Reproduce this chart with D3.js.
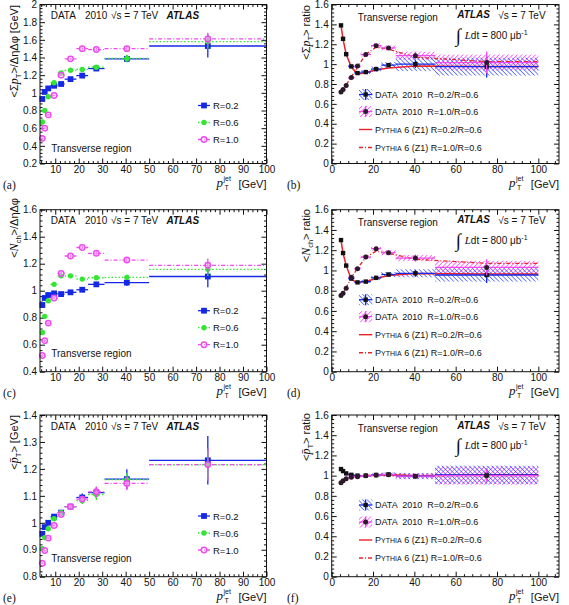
<!DOCTYPE html>
<html><head><meta charset="utf-8">
<script src="https://cdn.jsdelivr.net/npm/d3@7"></script>
<style>body{margin:0;background:#fff}svg{display:block}</style>
</head><body><svg id="c" width="569" height="605"></svg>
<script>
// ---------------- DATA ----------------
const binLo     = [4, 5, 6, 8, 11, 14, 19, 24, 31, 50];
const binHi     = [5, 6, 8, 11, 14, 19, 24, 31, 50, 100];
const binCenter = [4.5, 5.5, 7, 9.5, 12.5, 16.5, 21.5, 27.5, 40.5, 75];
const seriesNames = ["R=0.2", "R=0.6", "R=1.0"];
const ratioNames = ["DATA  2010  R=0.2/R=0.6", "DATA  2010  R=1.0/R=0.6"];
const mcNames = [" 6 (Z1) R=0.2/R=0.6", " 6 (Z1) R=1.0/R=0.6"];

// (a) <sum pT>/deta dphi [GeV]
const sumPtR02 = [0.93, 1.01, 1.05, 1.08, 1.10, 1.155, 1.195, 1.275, 1.385, 1.53];
const sumPtR06 = [0.67, 0.80, 0.955, 1.115, 1.225, 1.255, 1.265, 1.29, 1.39, 1.58];
const sumPtR10 = [0.485, 0.60, 0.75, 0.97, 1.20, 1.385, 1.50, 1.49, 1.50, 1.61];
const sumPtErrR02 = [0.01, 0.01, 0.01, 0.01, 0.01, 0.012, 0.015, 0.02, 0.04, 0.13];
const sumPtErrR06 = [0.01, 0.01, 0.01, 0.01, 0.01, 0.012, 0.015, 0.02, 0.04, 0.08];
const sumPtErrR10 = [0.01, 0.01, 0.01, 0.01, 0.01, 0.012, 0.015, 0.02, 0.03, 0.07];
// (c) <Nch>/deta dphi
const nchR02 = [0.894, 0.946, 0.968, 0.98, 0.975, 0.988, 1.007, 1.047, 1.06, 1.105];
const nchR06 = [0.69, 0.81, 0.926, 1.047, 1.11, 1.11, 1.086, 1.096, 1.099, 1.158];
const nchR10 = [0.52, 0.63, 0.76, 0.946, 1.128, 1.257, 1.32, 1.277, 1.227, 1.188];
const nchErrR02 = [0.01, 0.01, 0.01, 0.01, 0.01, 0.01, 0.012, 0.015, 0.025, 0.08];
const nchErrR06 = [0.01, 0.01, 0.01, 0.01, 0.01, 0.01, 0.012, 0.015, 0.02, 0.05];
const nchErrR10 = [0.01, 0.01, 0.01, 0.01, 0.01, 0.01, 0.012, 0.015, 0.02, 0.05];
// (e) <mean pT> [GeV]
const meanPtR02 = [0.959, 0.984, 1.0, 1.023, 1.038, 1.06, 1.094, 1.112, 1.162, 1.232];
const meanPtR06 = [0.904, 0.945, 0.978, 1.015, 1.038, 1.06, 1.082, 1.105, 1.16, 1.215];
const meanPtR10 = [0.85, 0.897, 0.943, 0.99, 1.031, 1.06, 1.088, 1.115, 1.146, 1.216];
const meanPtErrR02 = [0.005, 0.005, 0.005, 0.006, 0.006, 0.008, 0.015, 0.02, 0.037, 0.09];
const meanPtErrR06 = [0.004, 0.004, 0.005, 0.005, 0.006, 0.008, 0.012, 0.02, 0.025, 0.05];
const meanPtErrR10 = [0.004, 0.004, 0.005, 0.005, 0.006, 0.008, 0.012, 0.02, 0.025, 0.06];

// (b) sum pT ratios
const sumPtRatio02 = [1.39, 1.255, 1.10, 0.977, 0.91, 0.92, 0.95, 0.99, 1.0, 0.975];
const sumPtRatio10 = [0.72, 0.745, 0.785, 0.865, 0.98, 1.097, 1.186, 1.163, 1.085, 1.016];
const sumPtRatioErr = [0.005, 0.005, 0.006, 0.008, 0.01, 0.012, 0.015, 0.02, 0.04, 0.11];
const sumPtSys02 = [0.01, 0.01, 0.01, 0.015, 0.015, 0.02, 0.025, 0.03, 0.07, 0.09];
const sumPtSys10 = [0.01, 0.01, 0.01, 0.015, 0.015, 0.02, 0.025, 0.025, 0.04, 0.08];
// (d) Nch ratios
const nchRatio02 = [1.30, 1.172, 1.048, 0.92, 0.882, 0.89, 0.927, 0.96, 0.972, 0.955];
const nchRatio10 = [0.752, 0.775, 0.825, 0.934, 1.017, 1.132, 1.215, 1.175, 1.122, 1.03];
const nchRatioErr = [0.005, 0.005, 0.006, 0.008, 0.01, 0.012, 0.015, 0.02, 0.035, 0.08];
const nchSys02 = [0.01, 0.01, 0.01, 0.012, 0.015, 0.015, 0.02, 0.025, 0.04, 0.065];
const nchSys10 = [0.01, 0.01, 0.01, 0.012, 0.015, 0.015, 0.02, 0.025, 0.03, 0.065];
// (f) mean pT ratios
const meanPtRatio02 = [1.065, 1.045, 1.022, 1.008, 1.0, 1.0, 1.007, 1.012, 0.995, 1.008];
const meanPtRatio10 = [0.93, 0.95, 0.97, 0.985, 0.99, 1.0, 1.005, 1.01, 0.995, 1.0];
const meanPtRatioErr = [0.004, 0.004, 0.004, 0.005, 0.005, 0.006, 0.008, 0.01, 0.02, 0.06];
const meanPtSys02 = [0.005, 0.005, 0.005, 0.008, 0.01, 0.01, 0.015, 0.02, 0.03, 0.09];
const meanPtSys10 = [0.005, 0.005, 0.005, 0.008, 0.01, 0.01, 0.015, 0.02, 0.03, 0.09];

// Pythia 6 (Z1) predictions
const pythiaX = [4.5, 5.5, 7, 9.5, 12.5, 16.5, 21.5, 27.5, 40.5, 75, 100];
const pySumPt02 = [1.39, 1.25, 1.10, 0.97, 0.90, 0.915, 0.94, 0.96, 0.98, 0.975, 0.975];
const pySumPt10 = [0.72, 0.745, 0.79, 0.87, 0.97, 1.10, 1.17, 1.15, 1.07, 1.025, 1.025];
const pyNch02 = [1.30, 1.17, 1.05, 0.91, 0.88, 0.89, 0.92, 0.95, 0.97, 0.965, 0.965];
const pyNch10 = [0.75, 0.78, 0.83, 0.93, 1.02, 1.13, 1.19, 1.17, 1.11, 1.07, 1.07];
const pyMeanPt02 = [1.07, 1.05, 1.02, 1.005, 1.0, 1.0, 1.005, 1.01, 1.0, 1.01, 1.01];
const pyMeanPt10 = [0.93, 0.95, 0.97, 0.985, 0.99, 1.0, 1.005, 1.01, 1.0, 1.0, 1.0];

// ---------------- STYLE ----------------
const SANS = "'Liberation Sans', Arial, sans-serif";
const SERIF = "'Liberation Serif', 'Times New Roman', serif";
const cBlue = "#1428e6", cGreen = "#33e633", cMag = "#f04af0", cRed = "#e8232a";
const cBlueHatch = "#2c48ff", cMagHatch = "#ff2cff";

const svg = d3.select("#c");
const defs = svg.append("defs");
function hatch(id, color, angle) {
  const p = defs.append("pattern").attr("id", id).attr("patternUnits", "userSpaceOnUse")
    .attr("width", 3.2).attr("height", 3.2).attr("patternTransform", `rotate(${angle})`);
  p.append("line").attr("x1", 0).attr("y1", 0).attr("x2", 0).attr("y2", 3.2)
    .attr("stroke", color).attr("stroke-width", 1.3);
}
hatch("hB", cBlueHatch, -45);
hatch("hM", cMagHatch, 45);

const fmt = d => String(+d.toFixed(3));
const rng = (a, b, s) => d3.range(Math.round(a / s), Math.round(b / s) + 1).map(i => +(i * s).toFixed(4));

function panel(cfg) {
  const W = cfg.right - cfg.left, H = cfg.bottom - cfg.top;
  const g = svg.append("g").attr("transform", `translate(${cfg.left},${cfg.top})`);
  const x = d3.scaleLinear().domain(cfg.xDomain).range([0, W]);
  const y = d3.scaleLinear().domain(cfg.yDomain).range([H, 0]);
  const ax = g.append("g").attr("class", "axes");
  const xMin = cfg.xMinor.filter(v => !cfg.xMajor.includes(v) && v >= cfg.xDomain[0] && v <= cfg.xDomain[1]);
  const yMin = cfg.yMinor.filter(v => !cfg.yMajor.some(m => Math.abs(m - v) < 1e-6) && v >= cfg.yDomain[0] && v <= cfg.yDomain[1]);
  ax.append("g").attr("transform", `translate(0,${H})`)
    .call(d3.axisBottom(x).tickValues(cfg.xMajor).tickSize(-5).tickSizeOuter(0).tickPadding(2.5).tickFormat(fmt));
  ax.append("g").attr("transform", `translate(0,${H})`)
    .call(d3.axisBottom(x).tickValues(xMin).tickSize(-2.5).tickSizeOuter(0).tickFormat(""));
  ax.append("g").call(d3.axisTop(x).tickValues(cfg.xMajor).tickSize(-5).tickSizeOuter(0).tickFormat(""));
  ax.append("g").call(d3.axisTop(x).tickValues(xMin).tickSize(-2.5).tickSizeOuter(0).tickFormat(""));
  ax.append("g").call(d3.axisLeft(y).tickValues(cfg.yMajor).tickSize(-5).tickSizeOuter(0).tickPadding(3).tickFormat(fmt));
  ax.append("g").call(d3.axisLeft(y).tickValues(yMin).tickSize(-2.5).tickSizeOuter(0).tickFormat(""));
  ax.append("g").attr("transform", `translate(${W},0)`)
    .call(d3.axisRight(y).tickValues(cfg.yMajor).tickSize(-5).tickSizeOuter(0).tickFormat(""));
  ax.append("g").attr("transform", `translate(${W},0)`)
    .call(d3.axisRight(y).tickValues(yMin).tickSize(-2.5).tickSizeOuter(0).tickFormat(""));
  ax.selectAll(".domain").remove();
  ax.selectAll("text").attr("font-family", SANS).attr("font-size", 10).attr("fill", "#111");
  ax.selectAll("line").attr("stroke", "#111");
  const marks = g.append("g");
  g.append("rect").attr("width", W).attr("height", H).attr("fill", "none").attr("stroke", "#111").attr("stroke-width", 1);

  // x title  p_T^jet [GeV]
  const t = g.append("g").attr("font-family", SANS).attr("fill", "#111");
  t.append("text").attr("x", W).attr("y", H + 24).attr("text-anchor", "end").attr("font-size", 11).text("[GeV]");
  t.append("text").attr("x", W - 50).attr("y", H + 23).attr("font-family", SERIF).attr("font-style", "italic").attr("font-size", 13).text("p");
  t.append("text").attr("x", W - 43).attr("y", H + 17).attr("font-size", 7).text("jet");
  t.append("text").attr("x", W - 42).attr("y", H + 26.5).attr("font-size", 7).text("T");
  // panel letter
  t.append("text").attr("x", cfg.letterX - cfg.left).attr("y", H + 25).attr("font-family", SERIF).attr("font-size", 11.5).text(cfg.letter);
  // y title
  const yt = t.append("text").attr("transform", `translate(-22,${cfg.yTitleEnd - cfg.top}) rotate(-90)`)
    .attr("text-anchor", "end").attr("font-size", 11);
  cfg.yTitle(yt);
  return { g: marks, x, y, W, H, root: g };
}

function yTitleParts(sel, pre, sym, symItalic, sub, post) {
  sel.append("tspan").text(pre);
  sel.append("tspan").attr("font-family", SERIF).attr("font-style", symItalic ? "italic" : null).attr("font-size", 12).text(sym);
  sel.append("tspan").attr("font-size", 7.5).attr("dy", 3).text(sub);
  sel.append("tspan").attr("dy", -3).text(post);
}

function drawMarkers(g, type, color, pts) {
  if (type === "sq") {
    g.selectAll(null).data(pts).join("rect").attr("x", d => d[0] - 2.9).attr("y", d => d[1] - 2.9)
      .attr("width", 5.8).attr("height", 5.8).attr("fill", color);
  } else if (type === "dot") {
    g.selectAll(null).data(pts).join("circle").attr("cx", d => d[0]).attr("cy", d => d[1]).attr("r", 2.7).attr("fill", color);
  } else if (type === "ring") {
    g.selectAll(null).data(pts).join("circle").attr("cx", d => d[0]).attr("cy", d => d[1]).attr("r", 2.7)
      .attr("fill", "#fff").attr("fill-opacity", 0.3).attr("stroke", color).attr("stroke-width", 1.5);
  } else if (type === "bsq") {
    g.selectAll(null).data(pts).join("rect").attr("x", d => d[0] - 2.2).attr("y", d => d[1] - 2.2)
      .attr("width", 4.4).attr("height", 4.4).attr("fill", "#111");
  } else if (type === "bdot") {
    g.selectAll(null).data(pts).join("circle").attr("cx", d => d[0]).attr("cy", d => d[1]).attr("r", 2.5).attr("fill", "#2a1a2a");
  }
}

// ------------- left (distribution) panels -------------
function distPanel(p, r02, r06, r10, e02, e06, e10) {
  const { g, x, y } = p;
  const sets = [
    { v: r02, e: e02, c: cBlue, dash: null, m: "sq" },
    { v: r06, e: e06, c: cGreen, dash: "1.5,2", m: "dot" },
    { v: r10, e: e10, c: cMag, dash: "4,2,1,2", m: "ring" }];
  sets.forEach(s => {
    const gg = g.append("g");
    gg.selectAll("line.h").data(s.v).join("line")
      .attr("x1", (d, i) => x(binLo[i])).attr("x2", (d, i) => x(binHi[i]))
      .attr("y1", d => y(d)).attr("y2", d => y(d))
      .attr("stroke", s.c).attr("stroke-width", 1.3).attr("stroke-dasharray", s.dash);
    gg.selectAll("line.v").data(s.v).join("line")
      .attr("x1", (d, i) => x(binCenter[i])).attr("x2", (d, i) => x(binCenter[i]))
      .attr("y1", (d, i) => y(d - s.e[i])).attr("y2", (d, i) => y(d + s.e[i]))
      .attr("stroke", s.c).attr("stroke-width", 1.3);
    drawMarkers(gg, s.m, s.c, s.v.map((d, i) => [x(binCenter[i]), y(d)]));
  });
  const root = p.root;
  const tg = root.append("g").attr("font-family", SANS).attr("font-size", 10).attr("fill", "#111");
  tg.append("text").attr("x", 10.7).attr("y", 14.5).text("DATA");
  tg.append("text").attr("x", 45).attr("y", 14.5).text("2010");
  tg.append("text").attr("x", 71).attr("y", 14.5).text("√s = 7 TeV");
  tg.append("text").attr("x", 126.5).attr("y", 14.5).attr("font-weight", "bold").attr("font-style", "italic").text("ATLAS");
  tg.append("text").attr("x", 11.3).attr("y", 147).text("Transverse region");
  const lg = root.append("g");
  const rows = [101, 118, 135];
  sets.forEach((s, i) => {
    lg.append("line").attr("x1", 158).attr("x2", 170).attr("y1", rows[i]).attr("y2", rows[i])
      .attr("stroke", s.c).attr("stroke-width", 1.3).attr("stroke-dasharray", s.dash);
    drawMarkers(lg, s.m, s.c, [[164, rows[i]]]);
    lg.append("text").attr("x", 173).attr("y", rows[i] + 3.5).attr("font-family", SANS).attr("font-size", 9.5).attr("fill", "#111").text(seriesNames[i]);
  });
}

// ------------- right (ratio) panels -------------
function ratioPanel(p, r02, r10, err, s02, s10, py02, py10) {
  const { g, x, y } = p;
  [[r10, s10, "url(#hM)"], [r02, s02, "url(#hB)"]].forEach(([v, s, fill]) => {
    g.append("g").selectAll("rect").data(v).join("rect")
      .attr("x", (d, i) => x(binLo[i])).attr("width", (d, i) => x(binHi[i]) - x(binLo[i]))
      .attr("y", (d, i) => y(d + s[i])).attr("height", (d, i) => y(d - s[i]) - y(d + s[i]))
      .attr("fill", fill);
  });
  const line = d3.line().x((d, i) => x(pythiaX[i])).y(d => y(d));
  g.append("path").attr("d", line(py02)).attr("fill", "none").attr("stroke", cRed).attr("stroke-width", 1.5);
  g.append("path").attr("d", line(py10)).attr("fill", "none").attr("stroke", cRed).attr("stroke-width", 1.3).attr("stroke-dasharray", "4,2,1,2");
  [[r02, cBlue, "bsq"], [r10, cMag, "bdot"]].forEach(([v, c, m]) => {
    const gg = g.append("g");
    gg.selectAll("line.h").data(v).join("line")
      .attr("x1", (d, i) => x(binLo[i])).attr("x2", (d, i) => x(binHi[i]))
      .attr("y1", d => y(d)).attr("y2", d => y(d)).attr("stroke", c).attr("stroke-width", 1.3);
    gg.selectAll("line.v").data(v).join("line")
      .attr("x1", (d, i) => x(binCenter[i])).attr("x2", (d, i) => x(binCenter[i]))
      .attr("y1", (d, i) => y(d - err[i])).attr("y2", (d, i) => y(d + err[i]))
      .attr("stroke", c).attr("stroke-width", 1.3);
    drawMarkers(gg, m, c, v.map((d, i) => [x(binCenter[i]), y(d)]));
  });
  const root = p.root;
  const tg = root.append("g").attr("font-family", SANS).attr("font-size", 10).attr("fill", "#111");
  tg.append("text").attr("x", 26).attr("y", 16.5).text("Transverse region");
  tg.append("text").attr("x", 125.6).attr("y", 13.5).attr("font-weight", "bold").attr("font-style", "italic").text("ATLAS");
  tg.append("text").attr("x", 166.6).attr("y", 14.5).text("√s = 7 TeV");
  tg.append("text").attr("x", 124).attr("y", 37).attr("font-family", SERIF).attr("font-size", 19).text("∫");
  const lt = tg.append("text").attr("x", 133).attr("y", 34);
  lt.append("tspan").attr("font-family", SERIF).attr("font-style", "italic").attr("font-size", 11).text("L");
  lt.append("tspan").text("dt = 800 μb");
  lt.append("tspan").attr("font-size", 7).attr("dy", -4).text("-1");
  const lg = root.append("g");
  const rows = [90, 107, 125, 143];
  const bx = 27.3, bw = 13.3;
  [["url(#hB)", cBlue, "bsq"], ["url(#hM)", cMag, "bdot"]].forEach(([fill, c, m], i) => {
    const cy = rows[i];
    lg.append("rect").attr("x", bx).attr("y", cy - 5.5).attr("width", bw).attr("height", 11).attr("fill", fill);
    lg.append("line").attr("x1", bx).attr("x2", bx + bw).attr("y1", cy).attr("y2", cy).attr("stroke", c).attr("stroke-width", 1.3);
    lg.append("line").attr("x1", bx + bw / 2).attr("x2", bx + bw / 2).attr("y1", cy - 5.5).attr("y2", cy + 5.5).attr("stroke", c).attr("stroke-width", 1.3);
    drawMarkers(lg, m, c, [[bx + bw / 2, cy]]);
    lg.append("text").attr("x", 43.3).attr("y", cy + 3.3).attr("font-family", SANS).attr("font-size", 9).attr("fill", "#111")
      .attr("xml:space", "preserve").text(ratioNames[i]);
  });
  [null, "4,2,1,2"].forEach((dash, i) => {
    const cy = rows[2 + i];
    lg.append("line").attr("x1", bx).attr("x2", bx + bw).attr("y1", cy).attr("y2", cy)
      .attr("stroke", cRed).attr("stroke-width", 1.4).attr("stroke-dasharray", dash);
    const tx = lg.append("text").attr("x", 43.3).attr("y", cy + 3.3).attr("font-family", SANS).attr("font-size", 9).attr("fill", "#111");
    tx.append("tspan").text("P");
    tx.append("tspan").attr("font-size", 7).text("YTHIA");
    tx.append("tspan").text(mcNames[i]);
  });
}

// ---------------- LAYOUT ----------------
const L = { left: 40, right: 266.5, letterX: 3 }, R = { left: 331.7, right: 559, letterX: 287 };
const rowsY = [[4.5, 163.5], [209.7, 371.7], [415, 576.7]];
const leftX = { xDomain: [3.5, 100], xMajor: rng(10, 100, 10), xMinor: rng(4, 100, 2) };
const rightX = { xDomain: [0, 110], xMajor: rng(0, 100, 20), xMinor: rng(0, 108, 4) };
const ratioY = { yDomain: [0, 1.6], yMajor: rng(0, 1.6, 0.2), yMinor: rng(0, 1.6, 0.04) };

const pa = panel({ ...L, top: rowsY[0][0], bottom: rowsY[0][1], ...leftX, yDomain: [0.2, 2], yMajor: rng(0.2, 2, 0.2), yMinor: rng(0.2, 2, 0.04),
  letter: "(a)", yTitleEnd: 5, yTitle: s => yTitleParts(s, "<Σ", "p", true, "T", ">/ΔηΔφ [GeV]") });
distPanel(pa, sumPtR02, sumPtR06, sumPtR10, sumPtErrR02, sumPtErrR06, sumPtErrR10);

const pc = panel({ ...L, top: rowsY[1][0], bottom: rowsY[1][1], ...leftX, yDomain: [0.4, 1.6], yMajor: rng(0.4, 1.6, 0.2), yMinor: rng(0.4, 1.6, 0.04),
  letter: "(c)", yTitleEnd: 198, yTitle: s => yTitleParts(s, "<", "N", true, "ch", ">/ΔηΔφ") });
distPanel(pc, nchR02, nchR06, nchR10, nchErrR02, nchErrR06, nchErrR10);

const pe = panel({ ...L, top: rowsY[2][0], bottom: rowsY[2][1], ...leftX, yDomain: [0.8, 1.4], yMajor: rng(0.8, 1.4, 0.1), yMinor: rng(0.8, 1.4, 0.02),
  letter: "(e)", yTitleEnd: 415, yTitle: s => yTitleParts(s, "<", "p\u0304", true, "T", "> [GeV]") });
distPanel(pe, meanPtR02, meanPtR06, meanPtR10, meanPtErrR02, meanPtErrR06, meanPtErrR10);

const pb = panel({ ...R, top: rowsY[0][0], bottom: rowsY[0][1], ...rightX, ...ratioY,
  letter: "(b)", yTitleEnd: 5, yTitle: s => yTitleParts(s, "<Σ", "p", true, "T", "> ratio") });
ratioPanel(pb, sumPtRatio02, sumPtRatio10, sumPtRatioErr, sumPtSys02, sumPtSys10, pySumPt02, pySumPt10);

const pd = panel({ ...R, top: rowsY[1][0], bottom: rowsY[1][1], ...rightX, ...ratioY,
  letter: "(d)", yTitleEnd: 209, yTitle: s => yTitleParts(s, "<", "N", true, "ch", "> ratio") });
ratioPanel(pd, nchRatio02, nchRatio10, nchRatioErr, nchSys02, nchSys10, pyNch02, pyNch10);

const pf = panel({ ...R, top: rowsY[2][0], bottom: rowsY[2][1], ...rightX, ...ratioY,
  letter: "(f)", yTitleEnd: 413, yTitle: s => yTitleParts(s, "<", "p\u0304", true, "T", "> ratio") });
ratioPanel(pf, meanPtRatio02, meanPtRatio10, meanPtRatioErr, meanPtSys02, meanPtSys10, pyMeanPt02, pyMeanPt10);
</script>
</body></html>
